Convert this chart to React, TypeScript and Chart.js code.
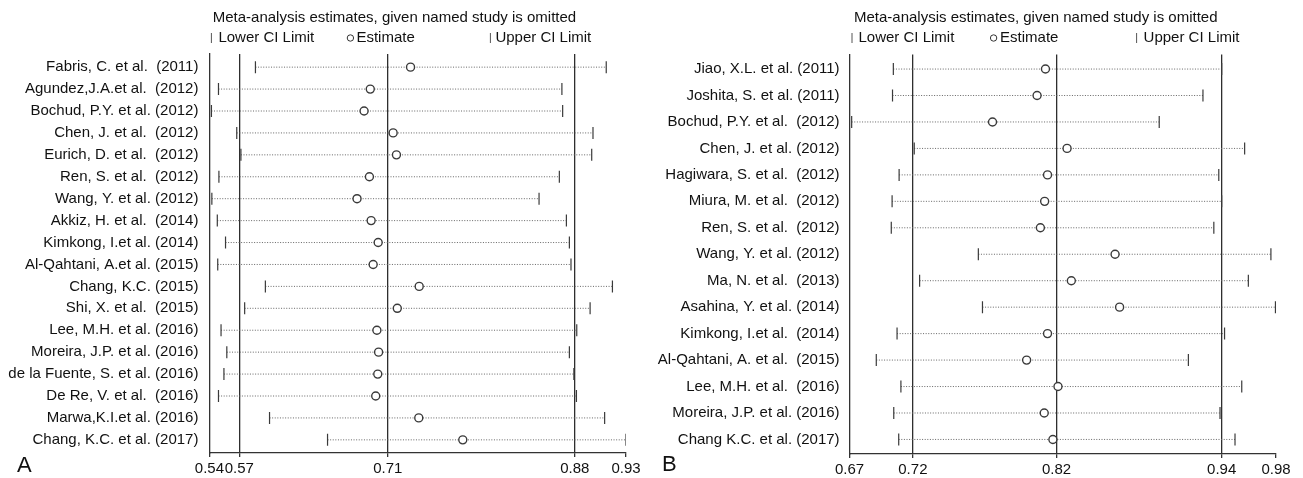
import React, { useEffect, useRef } from 'react';
import { Chart, registerables } from 'chart.js';
Chart.register(...registerables);

const FONT = "'Liberation Sans', Arial, Helvetica, sans-serif";

// ---------- Panel A ----------
const studiesA = [
  'Fabris, C. et al.  (2011)',
  'Agundez,J.A.et al.  (2012)',
  'Bochud, P.Y. et al. (2012)',
  'Chen, J. et al.  (2012)',
  'Eurich, D. et al.  (2012)',
  'Ren, S. et al.  (2012)',
  'Wang, Y. et al. (2012)',
  'Akkiz, H. et al.  (2014)',
  'Kimkong, I.et al. (2014)',
  'Al-Qahtani, A.et al. (2015)',
  'Chang, K.C. (2015)',
  'Shi, X. et al.  (2015)',
  'Lee, M.H. et al. (2016)',
  'Moreira, J.P. et al. (2016)',
  'de la Fuente, S. et al. (2016)',
  'De Re, V. et al.  (2016)',
  'Marwa,K.I.et al. (2016)',
  'Chang, K.C. et al. (2017)',
];
const lowerA = [0.5831, 0.5485, 0.5419, 0.5656, 0.5695, 0.5489, 0.5423, 0.5474, 0.5551, 0.5478, 0.5924, 0.573, 0.5509, 0.5563, 0.5536, 0.5485, 0.5963, 0.6506];
const estimateA = [0.7283, 0.6906, 0.6848, 0.712, 0.7151, 0.6898, 0.6782, 0.6914, 0.698, 0.6933, 0.7364, 0.7159, 0.6968, 0.6984, 0.6976, 0.6957, 0.736, 0.7772];
const upperA = [0.9115, 0.87, 0.8707, 0.8991, 0.8979, 0.8676, 0.8486, 0.8742, 0.877, 0.8785, 0.9173, 0.8964, 0.8839, 0.877, 0.8812, 0.8836, 0.91, 0.93];
const axisTicksA = [0.54, 0.568, 0.707, 0.882, 0.93];
const refLinesA = [0.568, 0.707, 0.882];

// ---------- Panel B ----------
const studiesB = [
  'Jiao, X.L. et al. (2011)',
  'Joshita, S. et al. (2011)',
  'Bochud, P.Y. et al.  (2012)',
  'Chen, J. et al. (2012)',
  'Hagiwara, S. et al.  (2012)',
  'Miura, M. et al.  (2012)',
  'Ren, S. et al.  (2012)',
  'Wang, Y. et al. (2012)',
  'Ma, N. et al.  (2013)',
  'Asahina, Y. et al. (2014)',
  'Kimkong, I.et al.  (2014)',
  'Al-Qahtani, A. et al.  (2015)',
  'Lee, M.H. et al.  (2016)',
  'Moreira, J.P. et al. (2016)',
  'Chang K.C. et al. (2017)',
];
const lowerB = [0.7018, 0.7012, 0.6715, 0.717, 0.706, 0.7009, 0.7003, 0.7636, 0.7209, 0.7666, 0.7045, 0.6894, 0.7073, 0.7021, 0.7057];
const estimateB = [0.8124, 0.8063, 0.7739, 0.8281, 0.8139, 0.8118, 0.8087, 0.863, 0.8312, 0.8663, 0.8139, 0.7987, 0.8215, 0.8115, 0.8178];
const upperB = [0.9405, 0.9269, 0.8951, 0.9572, 0.9384, 0.9405, 0.9348, 0.9763, 0.9599, 0.9796, 0.9426, 0.9163, 0.9551, 0.9393, 0.9502];
const axisTicksB = [0.67, 0.716, 0.8205, 0.9405, 0.98];
const refLinesB = [0.716, 0.8205, 0.9405];

const TITLE = 'Meta-analysis estimates, given named study is omitted';
const LEGEND_LABELS = ['Lower CI Limit', 'Estimate', 'Upper CI Limit'];

type PanelCfg = {
  studies: string[];
  lower: number[];
  estimate: number[];
  upper: number[];
  axisTicks: number[];
  refLines: number[];
  xMin: number;
  xMax: number;
  yPad: number;
  letter: string;
  left: number;
  width: number;
  axisWidth: number;
  padRight: number;
  top: number;
  xAxisHeight: number;
  labelPad: number;
  titleDx: number;
  legendX: number[];
  legendTextDx: number[];
  letterX: number;
  letterY: number;
};

function Panel({ cfg }: { cfg: PanelCfg }) {
  const ref = useRef<HTMLCanvasElement>(null);
  useEffect(() => {
    const p = cfg;
    const n = p.studies.length;
    const overlay = {
      id: 'overlay',
      afterDraw(chart: any) {
        const ctx = chart.ctx as CanvasRenderingContext2D;
        const left = chart.chartArea.left;
        ctx.save();
        ctx.fillStyle = '#111';
        ctx.font = `15px ${FONT}`;
        ctx.textBaseline = 'middle';
        ctx.textAlign = 'left';
        ctx.fillText(TITLE, left + p.titleDx, 18);
        const y = 38;
        const xs = p.legendX.map((d) => left + d);
        ctx.strokeStyle = '#555';
        ctx.lineWidth = 1;
        ctx.beginPath();
        ctx.moveTo(xs[0], y - 5);
        ctx.lineTo(xs[0], y + 5);
        ctx.stroke();
        ctx.fillText(LEGEND_LABELS[0], xs[0] + p.legendTextDx[0], y);
        ctx.strokeStyle = '#333';
        ctx.beginPath();
        ctx.arc(xs[1], y, 3.2, 0, Math.PI * 2);
        ctx.stroke();
        ctx.fillText(LEGEND_LABELS[1], xs[1] + p.legendTextDx[1], y);
        ctx.strokeStyle = '#555';
        ctx.beginPath();
        ctx.moveTo(xs[2], y - 5);
        ctx.lineTo(xs[2], y + 5);
        ctx.stroke();
        ctx.fillText(LEGEND_LABELS[2], xs[2] + p.legendTextDx[2], y);
        ctx.font = `22px ${FONT}`;
        ctx.textBaseline = 'alphabetic';
        ctx.fillText(p.letter, p.letterX, p.letterY);
        ctx.restore();
      },
    };

    const ciDatasets = p.studies.map((_, i) => ({
      data: [
        { x: p.lower[i], y: i },
        { x: p.upper[i], y: i },
      ],
      showLine: true,
      borderColor: '#666',
      borderWidth: 1,
      borderDash: [1, 1.6],
      pointRadius: 0,
    }));

    const chart = new Chart(ref.current!, {
      type: 'scatter',
      data: {
        datasets: [
          {
            data: p.estimate.map((v, i) => ({ x: v, y: i })),
            pointStyle: 'circle',
            pointRadius: 4,
            pointBorderWidth: 1.4,
            pointBorderColor: '#3a3a3a',
            pointBackgroundColor: '#ffffff',
          } as any,
          {
            data: p.lower.map((v, i) => ({ x: v, y: i })),
            pointStyle: 'line',
            rotation: 90,
            pointRadius: 6,
            pointBorderWidth: 1.2,
            pointBorderColor: '#3a3a3a',
          } as any,
          {
            data: p.upper.map((v, i) => ({ x: v, y: i })),
            pointStyle: 'line',
            rotation: 90,
            pointRadius: 6,
            pointBorderWidth: 1.2,
            pointBorderColor: '#3a3a3a',
          } as any,
          ...ciDatasets,
        ],
      },
      options: {
        animation: false,
        responsive: false,
        devicePixelRatio: 1,
        events: [],
        layout: { padding: { left: 0, right: p.padRight, top: p.top, bottom: 0 } },
        plugins: {
          legend: { display: false },
          tooltip: { enabled: false },
          title: { display: false },
        },
        scales: {
          x: {
            type: 'linear',
            min: p.xMin,
            max: p.xMax,
            afterBuildTicks: (s: any) => {
              s.ticks = p.axisTicks.map((v) => ({ value: v }));
            },
            afterFit: (s: any) => {
              s.height = p.xAxisHeight;
            },
            ticks: {
              autoSkip: false,
              maxRotation: 0,
              minRotation: 0,
              padding: 3,
              color: '#111',
              font: { family: FONT, size: 15 },
              callback: (v: any) => Number(v).toFixed(2),
            },
            grid: {
              drawTicks: true,
              tickLength: 4,
              lineWidth: 1.3,
              tickColor: '#333',
              color: (c: any) =>
                c.tick && p.refLines.includes(c.tick.value) ? '#2e2e2e' : 'rgba(0,0,0,0)',
            },
            border: { display: true, color: '#333', width: 1.3 },
          },
          y: {
            type: 'linear',
            reverse: true,
            min: -p.yPad,
            max: n - 1 + p.yPad,
            afterBuildTicks: (s: any) => {
              s.ticks = p.studies.map((_, i) => ({ value: i }));
            },
            afterFit: (s: any) => {
              s.width = p.axisWidth;
            },
            ticks: {
              autoSkip: false,
              padding: p.labelPad,
              color: '#111',
              font: { family: FONT, size: 15 },
              callback: (v: any) => p.studies[Math.round(Number(v))] ?? '',
            },
            grid: { display: false, drawTicks: false },
            border: { display: true, color: '#333', width: 1.3 },
          },
        },
      },
      plugins: [overlay],
    } as any);
    return () => chart.destroy();
  }, [cfg]);
  return (
    <canvas
      ref={ref}
      width={cfg.width}
      height={478}
      style={{ position: 'absolute', left: cfg.left, top: 0, display: 'block' }}
    />
  );
}

const cfgA: PanelCfg = {
  studies: studiesA,
  lower: lowerA,
  estimate: estimateA,
  upper: upperA,
  axisTicks: axisTicksA,
  refLines: refLinesA,
  xMin: 0.54,
  xMax: 0.93,
  yPad: 0.6,
  letter: 'A',
  left: 0,
  width: 650,
  axisWidth: 209.4,
  padRight: 24,
  top: 54,
  xAxisHeight: 25,
  labelPad: 11,
  titleDx: 3.3,
  legendX: [2, 141, 281],
  legendTextDx: [7, 6, 5],
  letterX: 17,
  letterY: 472,
};

const cfgB: PanelCfg = {
  studies: studiesB,
  lower: lowerB,
  estimate: estimateB,
  upper: upperB,
  axisTicks: axisTicksB,
  refLines: refLinesB,
  xMin: 0.67,
  xMax: 0.98,
  yPad: 0.55,
  letter: 'B',
  left: 650,
  width: 653,
  axisWidth: 199.6,
  padRight: 27,
  top: 54.5,
  xAxisHeight: 24,
  labelPad: 10,
  titleDx: 4.4,
  legendX: [2.4, 144, 287],
  legendTextDx: [6.5, 6.5, 7],
  letterX: 12,
  letterY: 471,
};

export default function App() {
  return (
    <div style={{ position: 'absolute', left: 0, top: 0, width: 1303, height: 478, background: '#fff' }}>
      <Panel cfg={cfgA} />
      <Panel cfg={cfgB} />
    </div>
  );
}
